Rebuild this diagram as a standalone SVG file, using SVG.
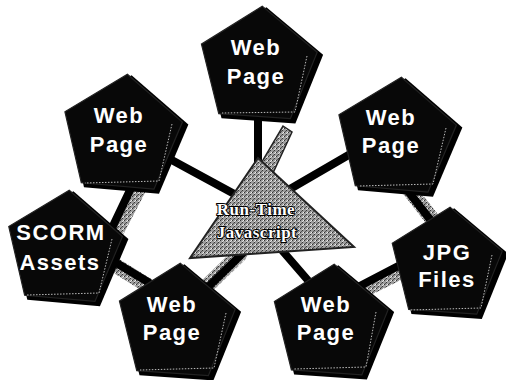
<svg xmlns="http://www.w3.org/2000/svg" width="506" height="380" viewBox="0 0 506 380">
<defs>
<pattern id="dither" width="4" height="4" patternUnits="userSpaceOnUse">
<rect width="4" height="4" fill="#9c9c9c"/>
<rect x="0" y="0" width="1" height="1" fill="#333"/>
<rect x="2" y="2" width="1" height="1" fill="#333"/>
<rect x="3" y="0" width="1" height="1" fill="#eee"/>
<rect x="1" y="3" width="1" height="1" fill="#555"/>
<rect x="2" y="1" width="1" height="1" fill="#ddd"/>
</pattern>
<polygon id="pent" points="0,-1 0.951,-0.309 0.588,0.809 -0.588,0.809 -0.951,-0.309"/>
</defs>
<style>
.bg{fill:#fff}
.shadow{fill:#000}
.body{fill:#080808;stroke:#222;stroke-width:0.02}
.bevel{fill:none;stroke:#bbb;stroke-width:1;stroke-dasharray:1.5 1.5}
.lbl{font-family:"Liberation Sans",Arial,sans-serif;font-weight:bold;font-size:22px;fill:#fff;letter-spacing:1.5px;text-anchor:middle}
.tube{stroke:url(#dither);stroke-width:15;stroke-linecap:round;fill:none}
.core{stroke:#000;stroke-width:8;stroke-linecap:round;fill:none}
.tri{fill:url(#dither);stroke:#222;stroke-width:2}
.tlbl{font-family:"Liberation Serif","Times New Roman",serif;font-weight:bold;font-size:17px;fill:#fff;stroke:#000;stroke-width:2px;paint-order:stroke;letter-spacing:0.5px;text-anchor:middle}
</style>
<rect class="bg" width="506" height="380"/>
<g id="connectors">
<line class="tube" x1="138" y1="190" x2="116" y2="232"/>
<line class="core" x1="132" y1="186" x2="112" y2="228"/>
<line class="tube" x1="110" y1="262" x2="150" y2="287"/>
<line class="core" x1="108" y1="258" x2="148" y2="282"/>
<line class="tube" x1="408" y1="188" x2="436" y2="224"/>
<line class="core" x1="404" y1="186" x2="432" y2="222"/>
<line class="tube" x1="360" y1="292" x2="408" y2="268"/>
<line class="core" x1="358" y1="287" x2="404" y2="263"/>
<line class="core" x1="168" y1="158" x2="238" y2="196"/>
<line class="core" x1="352" y1="153" x2="278" y2="196"/>
<line class="tube" x1="240" y1="254" x2="205" y2="288"/>
<line class="core" x1="246" y1="250" x2="208" y2="287"/>
<line class="core" x1="280" y1="248" x2="312" y2="285"/>
<line class="core" x1="258" y1="110" x2="258" y2="178"/>
<polygon points="283,126 292,132 266,188 250,182" fill="url(#dither)" stroke="#222" stroke-width="1.5"/>
</g>
<g id="runtime">
<polygon class="tri" points="258,158 190,258 354,247"/>
<text class="tlbl" x="256" y="215">Run-Time</text>
<text class="tlbl" x="257" y="238">Javascript</text>
</g>
<g id="web-top">
<use href="#pent" class="shadow" transform="translate(262,70) rotate(4) scale(63)"/>
<use href="#pent" class="body" transform="translate(258,67) rotate(4) scale(61)"/>
<polyline class="bevel" points="307,56 295,112 222,113" />
<text class="lbl" x="256" y="55">Web</text>
<text class="lbl" x="256" y="84">Page</text>
</g>
<g id="web-topleft">
<use href="#pent" class="shadow" transform="translate(126,139) rotate(5) scale(64)"/>
<use href="#pent" class="body" transform="translate(122,136) rotate(5) scale(62)"/>
<polyline class="bevel" points="172,124 159,181 85,183"/>
<text class="lbl" x="119" y="123">Web</text>
<text class="lbl" x="119" y="152">Page</text>
</g>
<g id="web-topright">
<use href="#pent" class="shadow" transform="translate(400,142) rotate(5) scale(64)"/>
<use href="#pent" class="body" transform="translate(396,139) rotate(5) scale(62)"/>
<polyline class="bevel" points="446,128 433,184 359,186"/>
<text class="lbl" x="391" y="125">Web</text>
<text class="lbl" x="391" y="153">Page</text>
</g>
<g id="scorm">
<use href="#pent" class="shadow" transform="translate(68,253) rotate(5) scale(62)"/>
<use href="#pent" class="body" transform="translate(64,250) rotate(5) scale(60)"/>
<polyline class="bevel" points="112,239 99,293 27,295"/>
<text class="lbl" x="61" y="240">SCORM</text>
<text class="lbl" x="60" y="270">Assets</text>
</g>
<g id="jpg">
<use href="#pent" class="shadow" transform="translate(450,268) rotate(4) scale(60)"/>
<use href="#pent" class="body" transform="translate(446,265) rotate(4) scale(58)"/>
<polyline class="bevel" points="492,255 481,308 410,310"/>
<text class="lbl" x="447" y="260">JPG</text>
<text class="lbl" x="447" y="287">Files</text>
</g>
<g id="web-bottomleft">
<use href="#pent" class="shadow" transform="translate(180,327) rotate(4) scale(63)"/>
<use href="#pent" class="body" transform="translate(176,324) rotate(4) scale(61)"/>
<polyline class="bevel" points="226,313 214,368 140,370"/>
<text class="lbl" x="172" y="312">Web</text>
<text class="lbl" x="172" y="340">Page</text>
</g>
<g id="web-bottomright">
<use href="#pent" class="shadow" transform="translate(334,327) rotate(4) scale(62)"/>
<use href="#pent" class="body" transform="translate(330,324) rotate(4) scale(60)"/>
<polyline class="bevel" points="376,312 366,367 294,369"/>
<text class="lbl" x="326" y="312">Web</text>
<text class="lbl" x="326" y="340">Page</text>
</g>
</svg>
